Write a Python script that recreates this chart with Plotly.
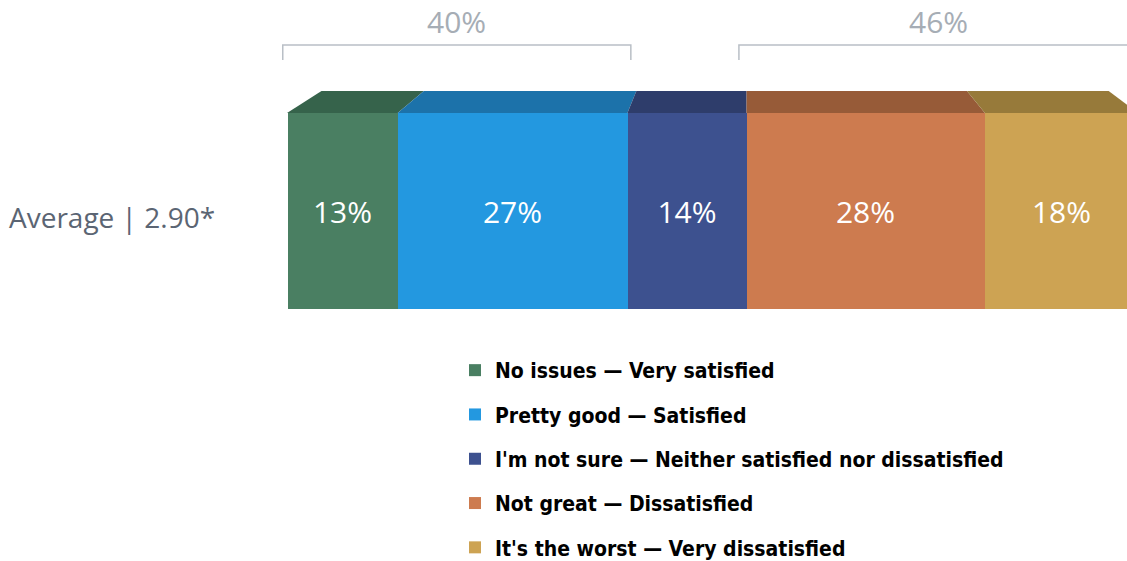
import plotly.graph_objects as go

# survey answers, share of respondents (%)
categories = [
    "No issues — Very satisfied",
    "Pretty good — Satisfied",
    "I'm not sure — Neither satisfied nor dissatisfied",
    "Not great — Dissatisfied",
    "It's the worst — Very dissatisfied",
]
values = [13, 27, 14, 28, 18]
row_label = "Average | 2.90*"

# bracket groups: (first index, last index, label)
groups = [(0, 1, "40%"), (3, 4, "46%")]

front_colors = ["#4A7F62", "#2398E0", "#3D518F", "#CD7B4F", "#CDA353"]
top_colors = ["#36634B", "#1C72AA", "#2E3D6B", "#975B38", "#977A3A"]

W, H = 1127, 561


def px_x(p):
    return p / W


def px_y(p):
    return 1 - p / H


x_range = [-1, 98.7]
x_dom = [px_x(278.5), 1]
y_dom = [px_y(309), px_y(113)]
top_depth = 22 / 196      # height of the top face, in y-domain units
vp, shrink = 54, 0.925    # perspective of the top face


def back(x):
    return vp + (x - vp) * shrink


starts = [sum(values[:i]) for i in range(len(values))]
ends = [s + v for s, v in zip(starts, values)]

fig = go.Figure()
for i, (name, v) in enumerate(zip(categories, values)):
    fig.add_trace(go.Bar(
        x=[v], y=[row_label], orientation="h", name=name,
        legendgroup=str(i),
        marker=dict(color=front_colors[i], line=dict(width=0)),
        text=[f"{v}%"], textposition="inside", insidetextanchor="middle",
        textfont=dict(family="Open Sans", size=30, color="white"),
        hoverinfo="name+x",
    ))

shapes = []
for i in range(len(values)):
    x0, x1 = starts[i], ends[i]
    path = (f"M{x0},1 L{x1},1 L{back(x1)},{1 + top_depth} "
            f"L{back(x0)},{1 + top_depth} Z")
    shapes.append(dict(type="path", path=path, xref="x", yref="y domain",
                       fillcolor=top_colors[i], line=dict(width=0), layer="above"))

annotations = []
for a, b, lab in groups:
    x0 = starts[a] - (0.5 if a == 0 else 0.9)
    x1 = ends[b] + 0.4
    path = (f"M{x0},{px_y(60)} L{x0},{px_y(45)} "
            f"L{x1},{px_y(45)} L{x1},{px_y(60)}")
    shapes.append(dict(type="path", path=path, xref="x", yref="paper",
                       line=dict(color="#B9BFC6", width=1.5)))
    annotations.append(dict(
        x=(x0 + min(x1, 100)) / 2, y=px_y(22), xref="x", yref="paper",
        text=lab, showarrow=False, yanchor="middle",
        font=dict(family="Open Sans", size=30, color="#A6ADB5"),
    ))

# row label sits a little below the bar's centre line
annotations.append(dict(
    x=px_x(217), y=px_y(217), xref="paper", yref="paper",
    text=row_label, showarrow=False, xanchor="right", yanchor="middle",
    font=dict(family="Open Sans", size=28, color="#5B6573"),
))

fig.update_layout(
    width=W, height=H,
    margin=dict(l=0, r=0, t=0, b=0, autoexpand=False),
    barmode="stack", bargap=0,
    plot_bgcolor="white", paper_bgcolor="white",
    xaxis=dict(range=x_range, domain=x_dom, visible=False),
    yaxis=dict(domain=y_dom, visible=False),
    showlegend=True,
    legend=dict(
        x=px_x(455), y=px_y(350), xanchor="left", yanchor="top",
        traceorder="grouped", tracegroupgap=14,
        font=dict(family="Liberation Sans Narrow, DejaVu Sans Condensed, sans-serif",
                  size=21, color="black", weight="bold"),
        bgcolor="rgba(0,0,0,0)",
    ),
    shapes=shapes,
    annotations=annotations,
)

# drop the browser's default 8px body margin so the figure fills the window
fig.write_html("out.html", config={"displayModeBar": False},
               post_script="document.body.style.margin = '0';")
